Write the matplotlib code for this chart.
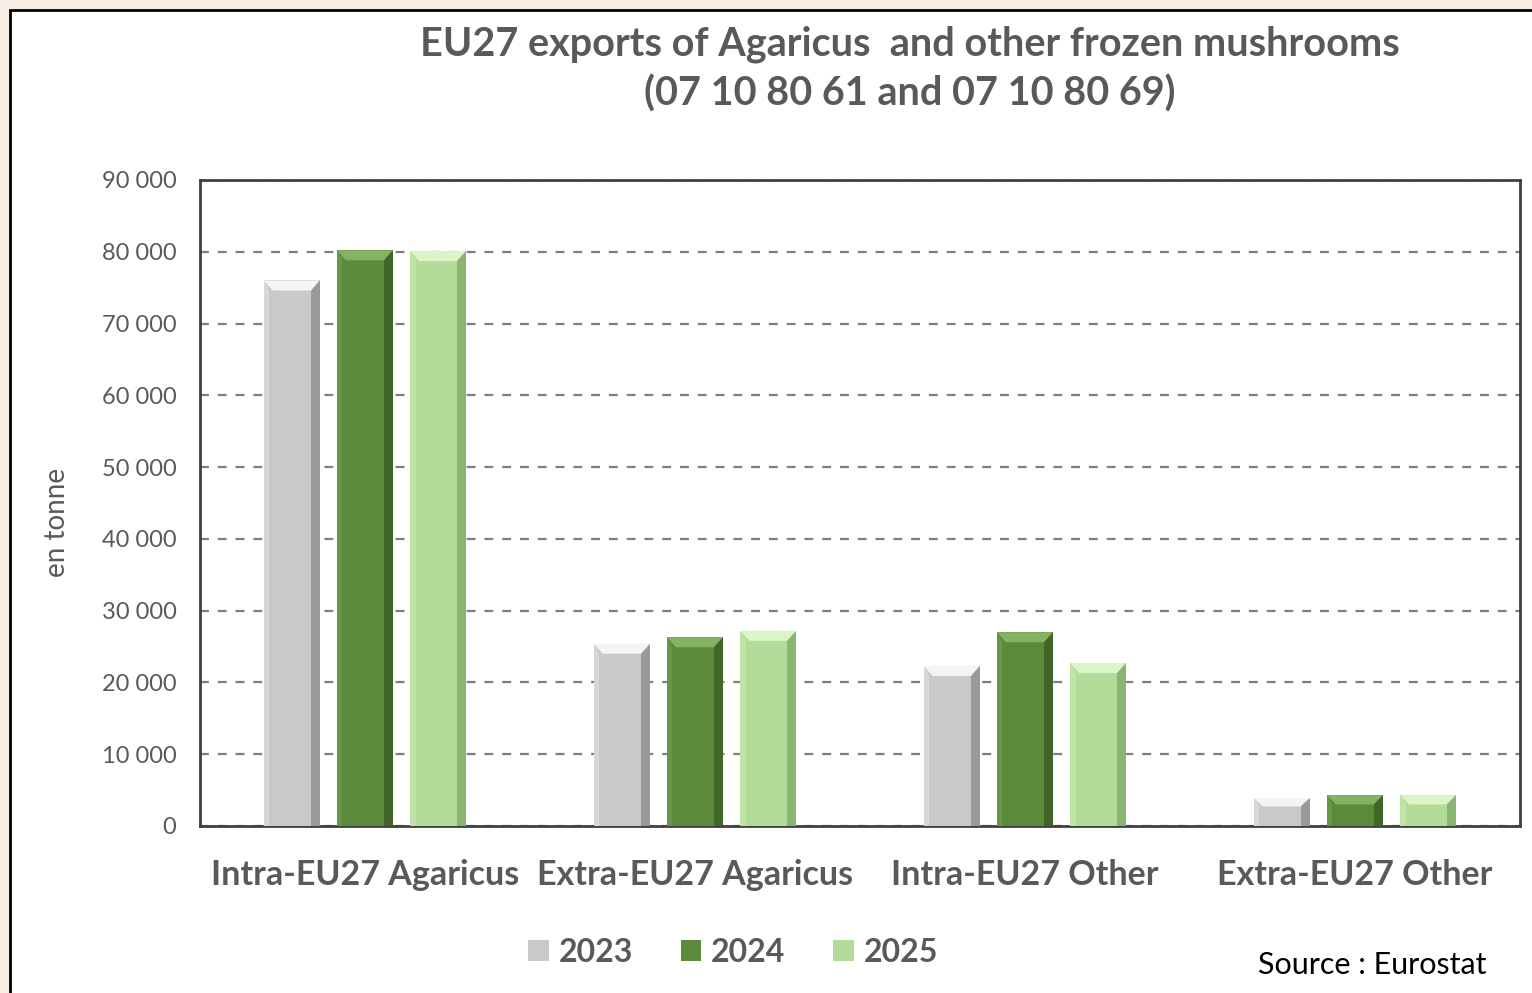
import numpy as np
import matplotlib.pyplot as plt
from matplotlib.patches import Polygon, Rectangle
from matplotlib.ticker import FuncFormatter

categories = ["Intra-EU27 Agaricus", "Extra-EU27 Agaricus", "Intra-EU27 Other", "Extra-EU27 Other"]
years = ["2023", "2024", "2025"]
v2023 = [76000, 25400, 22300, 3900]
v2024 = [80200, 26300, 27000, 4300]
v2025 = [80100, 27200, 22700, 4300]

colors = ["#c9c9c9", "#5b8a3a", "#b2dc98"]
light = ["#f4f4f4", "#86b264", "#dcf5c8"]
dark = ["#7a7a7a", "#2f4f1c", "#6e9a58"]

GRAY = "#595959"
FONT = "Lato"

fig = plt.figure(figsize=(15.32, 9.93), dpi=100)
fig.patch.set_facecolor("#f7eee4")
# white panel with black frame
fig.patches.append(Rectangle((10 / 1532, -0.05), 1.1, 1 - 10 / 993 + 0.05,
                             transform=fig.transFigure, facecolor="white",
                             edgecolor="black", linewidth=2, zorder=-1))

ax = fig.add_axes([200 / 1532, 1 - 826 / 993, 1320 / 1532, 646 / 993])
ax.set_facecolor("white")

x = np.arange(len(categories))
w = 0.17
off = 0.222
series = [v2023, v2024, v2025]

for i, vals in enumerate(series):
    bars = ax.bar(x + (i - 1) * off, vals, width=w, color=colors[i], zorder=3,
                  label=years[i], edgecolor="none")
    for b in bars:
        x0, bw, h = b.get_x(), b.get_width(), b.get_height()
        dx = bw * 0.16
        dy = min(1400, h * 0.3)
        # top bevel
        ax.add_patch(Polygon([(x0, h), (x0 + bw, h), (x0 + bw - dx, h - dy), (x0 + dx, h - dy)],
                             closed=True, facecolor=light[i], edgecolor="none", zorder=4))
        # right shade
        ax.add_patch(Polygon([(x0 + bw, h), (x0 + bw, 0), (x0 + bw - dx, 0), (x0 + bw - dx, h - dy)],
                             closed=True, facecolor=dark[i], edgecolor="none", alpha=0.6, zorder=4))
        # left highlight
        ax.add_patch(Polygon([(x0, h), (x0, 0), (x0 + dx * 0.6, 0), (x0 + dx * 0.6, h - dy)],
                             closed=True, facecolor=light[i], edgecolor="none", alpha=0.35, zorder=4))

ax.set_xlim(-0.5, 3.5)
ax.set_ylim(0, 90000)
ax.set_yticks(np.arange(0, 90001, 10000))
ax.yaxis.set_major_formatter(FuncFormatter(lambda v, p: f"{int(v):,}".replace(",", " ")))
ax.grid(axis="y", linestyle=(0, (4, 4)), color="#7f7f7f", linewidth=1.6, zorder=1)
ax.set_axisbelow(True)
for s in ax.spines.values():
    s.set_color("#404040")
    s.set_linewidth(2)

ax.tick_params(axis="y", length=0, pad=17, labelsize=17, labelcolor=GRAY)
ax.tick_params(axis="x", length=0, pad=24, labelsize=24.5, labelcolor=GRAY)
ax.set_xticks(x)
ax.set_xticklabels(categories, fontweight="bold", fontfamily=FONT)
for lab in ax.get_yticklabels():
    lab.set_fontfamily(FONT)

ax.set_ylabel("en tonne", fontsize=20, color=GRAY, fontfamily=FONT)
ax.yaxis.set_label_coords(-130 / 1320, 0.47)

fig.text(910 / 1532, 1 - 69 / 993, "EU27 exports of Agaricus  and other frozen mushrooms\n(07 10 80 61 and 07 10 80 69)",
         ha="center", va="center", fontsize=28.5, fontweight="bold", color=GRAY,
         fontfamily=FONT, linespacing=1.35)

leg = fig.legend(loc="center", bbox_to_anchor=(733 / 1532, 1 - 952 / 993), ncol=3, frameon=False,
                 prop={"family": FONT, "weight": "bold", "size": 23},
                 handlelength=0.65, handleheight=0.65, handletextpad=0.3, columnspacing=1.5)
for t in leg.get_texts():
    t.set_color(GRAY)

fig.text(1487 / 1532, 1 - 965 / 993, "Source : Eurostat", ha="right", va="center",
         fontsize=22, color="black", fontfamily=FONT)

fig.savefig("out.png", dpi=100)
